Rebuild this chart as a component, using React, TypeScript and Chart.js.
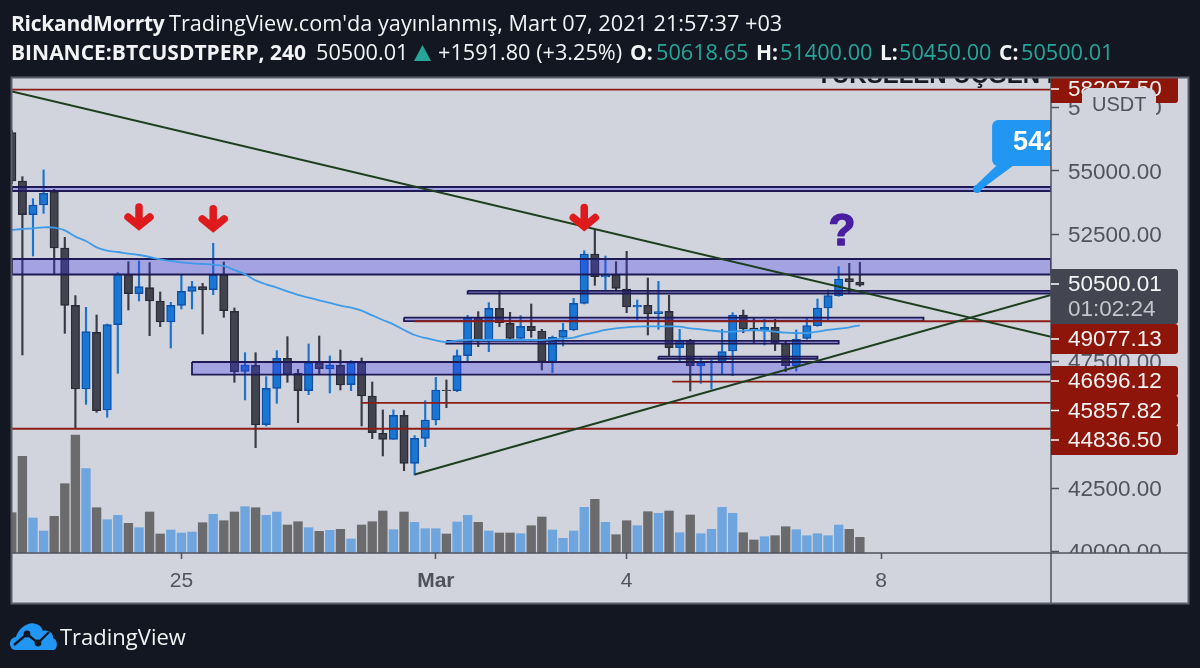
import React, { useEffect, useRef } from "react";
import { Chart, registerables } from "chart.js";

Chart.register(...registerables);

// Four-hour candles, left to right; the first one is cut by the left edge of the panel.
const firstCandleIndex = -1;
const candleOpen = [56512,54606,53278,53660,54185,51964,49703,46405,48639,45577,48941,50926,50164,50400,49874,49046,49703,50255,50439,50321,50899,49467,47101,47338,44998,46431,47614,47022,46339,47443,47193,47338,46575,47443,46128,44657,44420,45366,43474,44459,45182,46365,46339,47718,49230,48297,49585,48993,48402,48875,48691,47482,48441,48731,49782,51727,50820,50899,50347,49637,49703,49374,49467,48034,48336,47311,47442,47482,47903,49322,48809,48704,48836,48205,47324,48402,48901,49598,50084,50755,50618.65];
const candleHigh = [56600,54777,53909,55040,54277,52385,50085,49625,49322,48967,50992,51425,51452,51386,50229,49822,50899,50650,50571,52148,51412,49598,47837,47837,46891,47916,48468,47180,48179,48494,47706,47942,47522,47627,46681,45577,45577,45550,44564,45944,46865,46759,47942,49309,49453,49808,50242,49427,49296,49756,48757,48494,48993,49979,51859,52700,51648,51425,51832,49913,50781,50649,50097,48757,48362,47640,47548,48757,49414,49519,49217,49151,49151,48310,48731,49217,49953,50308,51228,51359,51400];
const candleLow = [54500,47745,51649,53331,50939,48599,44854,45800,45485,45287,47022,49520,49874,48507,48862,48021,49559,49559,48573,50124,49230,46668,45971,44091,44946,45839,46668,45077,46181,46996,46247,46365,46339,44946,44446,43763,44420,43184,43014,44131,44985,45667,46299,47482,48073,47876,48862,48336,48362,48441,47153,47048,48100,48704,49756,50492,50308,50308,49414,49125,48533,48757,47679,47482,46325,46628,46404,46996,46930,48625,48205,48139,47916,47088,47114,48362,48875,49125,50058,50176,50450];
const candleClose = [54606,53278,53660,54120,51964,49703,46405,48665,45550,48941,50939,50164,50439,49874,49046,49703,50255,50439,50321,50899,49493,47088,47351,44985,46431,47614,46983,46339,47443,47206,47351,46562,47443,46128,44683,44420,45366,43474,44459,45182,46365,46338,47718,49230,48297,49585,49020,48402,48875,48704,47482,48441,48718,49782,51727,50833,50886,50373,49637,49703,49361,49453,48034,48336,47324,47429,47508,47876,49322,48770,48704,48836,48231,47324,48362,48901,49598,50084,50741,50636,50500.01];
const volume = [40.3,96.7,35,22,36.7,69.3,118,84.3,45.3,33.3,37.7,29.7,25.3,41,19,23,20,21,30.3,38.7,32.3,41,46.3,45.3,37.7,41,28,31.3,25.3,21.7,22.7,23.7,14,28,31.3,42,23.3,41,30.7,24.3,24.3,19,31,37.7,30.7,22,20,20,19.3,27.3,36,23,14.7,22,45.7,53.7,30.7,18.3,32.3,27.3,41.3,39.7,42,20.3,38,19.3,23.7,45.7,39.7,20.3,13,16.3,17.3,26.3,23.3,17.3,19.3,17.3,28,23.7,15.7];
const movingAverage = [52674,52713,52740,52779,52766,52661,52411,52240,51990,51859,51806,51741,51688,51609,51517,51452,51399,51360,51333,51307,51254,51097,50926,50689,50531,50400,50255,50111,50006,49901,49796,49690,49612,49493,49309,49125,48954,48731,48534,48415,48323,48257,48310,48336,48336,48336,48336,48336,48336,48336,48336,48362,48389,48428,48547,48639,48731,48796,48836,48862,48875,48875,48875,48862,48796,48757,48704,48665,48665,48704,48731,48704,48665,48625,48612,48612,48665,48731,48783,48836,48915];

// x bounds of the time scale and y bounds of the price scale
const xMin = -0.98;
const xMax = 97.03;
const priceMin = 39937;
const priceMax = 58667;
const volumeMax = 475;

const priceTicks = [40000, 42500, 47500, 50000, 52500, 55000, 57500];
const timeTickIndex = [15, 39, 57, 81];
const timeTickLabel = ["25", "Mar", "4", "8"];

// horizontal red levels: from candle index, price
const redLevelStart = [xMin, 37, 61.3, 32, xMin];
const redLevelPrice = [58207.5, 49077.13, 46696.12, 45857.82, 44836.5];

// drawn zones: from, to, top price, bottom price
const zoneFrom = [xMin, xMin, 16, 42, 36, 40, 60];
const zoneTo = [xMax, xMax, xMax, xMax, 85, 77, 75];
const zoneTop = [54369, 51530, 47469, 50275, 49220, 48300, 47680];
const zoneBottom = [54211, 50919, 46968, 50170, 49080, 48190, 47590];

// trend lines: x1, price1, x2, price2
const trendX1 = [xMin, 37];
const trendP1 = [58135, 43033];
const trendX2 = [xMax, xMax];
const trendP2 = [48466, 50110];

const arrowIndex = [11, 18, 53];
const arrowPrice = [52673, 52600, 52650];
const questionIndex = 77.3;
const questionPrice = 52700;
const calloutIndex = 90.06;
const calloutPrice = 54290;

const priceTags = [
  { text: "58207.50", sub: "", cy: 89, h: 28, color: "#8e1509" },
  { text: "49077.13", sub: "", cy: 339, h: 30, color: "#8e1509" },
  { text: "46696.12", sub: "", cy: 381, h: 30, color: "#8e1509" },
  { text: "45857.82", sub: "", cy: 410.5, h: 30, color: "#8e1509" },
  { text: "44836.50", sub: "", cy: 440, h: 30, color: "#8e1509" },
  { text: "50500.01", sub: "01:02:24", cy: 296.5, h: 55, color: "#434651" },
];

const PANEL = "#d1d4dc";
const PAGE = "#131722";
const AXIS = "#50535e";
const PRICE_FONT = '22.5px "Liberation Sans"';
const ARROW_RED = "#df1a1c";

const xs = candleOpen.map((_, i) => firstCandleIndex + i);
const up = candleOpen.map((o, i) => candleClose[i] >= o);

const chrome = {
  id: "chrome",
  beforeDraw(chart: any) {
    const { ctx, width, height } = chart;
    ctx.save();
    ctx.fillStyle = PAGE;
    ctx.fillRect(0, 0, width, height);
    ctx.fillStyle = PANEL;
    ctx.fillRect(12, 78, 1176, 525);
    ctx.restore();
  },
  afterDatasetsDraw(chart: any) {
    const { ctx, chartArea: a, scales } = chart;
    const x = scales.x;
    const y = scales.y;
    ctx.save();
    ctx.beginPath();
    ctx.rect(a.left, a.top, a.right - a.left, a.bottom - a.top);
    ctx.clip();

    // red arrows
    arrowIndex.forEach((ix, k) => {
      const px = x.getPixelForValue(ix);
      const py = y.getPixelForValue(arrowPrice[k]);
      ctx.strokeStyle = ARROW_RED;
      ctx.lineWidth = 7.5;
      ctx.lineCap = "round";
      ctx.lineJoin = "miter";
      ctx.beginPath();
      ctx.moveTo(px, py - 23);
      ctx.lineTo(px, py - 5);
      ctx.moveTo(px - 11, py - 13);
      ctx.lineTo(px, py - 4);
      ctx.lineTo(px + 11, py - 13);
      ctx.stroke();
    });

    // question mark
    ctx.fillStyle = "#4a1ea0";
    ctx.strokeStyle = "#4a1ea0";
    ctx.lineWidth = 1.6;
    ctx.lineJoin = "round";
    ctx.font = 'bold 44px "Liberation Sans"';
    ctx.textAlign = "center";
    ctx.textBaseline = "middle";
    const qx = x.getPixelForValue(questionIndex);
    const qy = y.getPixelForValue(questionPrice) + 4;
    ctx.fillText("?", qx, qy);
    ctx.strokeText("?", qx, qy);

    // title cut off by the top of the panel
    ctx.fillStyle = "#16181f";
    ctx.font = 'bold 24px "Liberation Sans"';
    ctx.textAlign = "left";
    ctx.textBaseline = "alphabetic";
    ctx.fillText("YÜKSELEN ÜÇGEN K", 816, 83);

    // callout, cut by the price axis
    const cx = x.getPixelForValue(calloutIndex);
    const cy = y.getPixelForValue(calloutPrice);
    ctx.fillStyle = "#2196f3";
    ctx.beginPath();
    ctx.roundRect(cx + 15, cy - 69, 120, 46, 6);
    ctx.fill();
    ctx.beginPath();
    ctx.moveTo(cx + 20, cy - 24);
    ctx.lineTo(cx + 37, cy - 24);
    ctx.lineTo(cx + 2, cy + 2);
    ctx.lineTo(cx - 2, cy - 3);
    ctx.closePath();
    ctx.fill();
    ctx.beginPath();
    ctx.arc(cx, cy, 4, 0, Math.PI * 2);
    ctx.fill();
    ctx.fillStyle = "#ffffff";
    ctx.font = 'bold 27px "Liberation Sans"';
    ctx.textAlign = "left";
    ctx.textBaseline = "middle";
    ctx.fillText("542", cx + 36, cy - 46);
    ctx.restore();
  },
  afterDraw(chart: any) {
    const { ctx, chartArea: a } = chart;
    ctx.save();
    // everything under the price scale's bottom edge is the time scale
    ctx.fillStyle = PANEL;
    ctx.fillRect(a.right + 1, a.bottom, 1188 - a.right - 1, 603 - a.bottom);

    // panel separators
    ctx.strokeStyle = AXIS;
    ctx.lineWidth = 1.5;
    ctx.beginPath();
    ctx.moveTo(12, a.bottom);
    ctx.lineTo(1188, a.bottom);
    ctx.moveTo(a.right, 78);
    ctx.lineTo(a.right, 603);
    ctx.stroke();

    // price tags
    ctx.beginPath();
    ctx.rect(a.right, 78, 140, 525);
    ctx.clip();
    priceTags.forEach((t) => {
      ctx.fillStyle = t.color;
      ctx.beginPath();
      ctx.roundRect(a.right, t.cy - t.h / 2, 127, t.h, [0, 3, 3, 0]);
      ctx.fill();
      ctx.fillStyle = "#ffffff";
      ctx.fillRect(a.right, (t.sub ? t.cy - 12.5 : t.cy) - 0.75, 8, 1.5);
      ctx.font = PRICE_FONT;
      ctx.textAlign = "left";
      ctx.textBaseline = "middle";
      ctx.fillStyle = "#f4f4f4";
      ctx.fillText(t.text, 1068, t.sub ? t.cy - 12 : t.cy + 1);
      if (t.sub) {
        ctx.fillStyle = "#c4c6cc";
        ctx.fillText(t.sub, 1068, t.cy + 13);
      }
    });

    // currency badge
    ctx.fillStyle = PANEL;
    ctx.beginPath();
    ctx.roundRect(1082, 88, 74, 40, 8);
    ctx.fill();
    ctx.fillStyle = AXIS;
    ctx.font = '20px "Liberation Sans"';
    ctx.fillText("USDT", 1092, 105);
    ctx.restore();

    // outer frame
    ctx.save();
    ctx.strokeStyle = "#5a5e6a";
    ctx.lineWidth = 2;
    ctx.strokeRect(11.5, 77.5, 1177, 526);
    ctx.restore();
  },
};

function closedZone(k: number) {
  return [
    { x: zoneFrom[k], y: zoneTop[k] },
    { x: zoneTo[k], y: zoneTop[k] },
    { x: zoneTo[k], y: zoneBottom[k] },
    { x: zoneFrom[k], y: zoneBottom[k] },
    { x: zoneFrom[k], y: zoneTop[k] },
  ];
}

function Logo() {
  return (
    <svg width="50" height="32" viewBox="0 0 50 32" style={{ position: "absolute", left: 9, top: 621 }}>
      <path
        d="M3 28 C-1 23 1 17 7 16 C9 8 19 0 27 3 C31 4 33 7 34 10 C39 8 45 13 44 17 C49 19 49 27 45 29 L6 29 Z"
        fill="#2196f3"
      />
      <path d="M5 24 L18 13 L29 22 L40 11" fill="none" stroke="#131722" strokeWidth="2.4" />
      <circle cx="18" cy="13" r="3.4" fill="#131722" />
      <circle cx="29" cy="22" r="3.4" fill="#131722" />
    </svg>
  );
}

const headStyle: React.CSSProperties = {
  position: "absolute",
  whiteSpace: "nowrap",
  fontFamily: '"Open Sans", sans-serif',
  lineHeight: "26px",
  color: "#f2f3f5",
};

function Head({ left, top, bold, teal, spacing, children }: any) {
  return (
    <span
      style={{
        ...headStyle,
        left,
        top,
        fontSize: bold ? 21 : 21.7,
        fontWeight: bold ? 700 : 400,
        color: teal ? "#26a69a" : "#f2f3f5",
        letterSpacing: spacing ?? 0,
      }}
    >
      {children}
    </span>
  );
}

export default function App() {
  const ref = useRef<HTMLCanvasElement | null>(null);
  useEffect(() => {
    const canvas = ref.current!;
    const chart = new Chart(canvas, {
      type: "bar",
      data: {
        datasets: [
          {
            type: "bar",
            label: "Volume",
            yAxisID: "v",
            grouped: false,
            barThickness: 8.7,
            order: 20,
            data: xs.map((x, i) => ({ x, y: volume[i] })),
            backgroundColor: up.map((u) => (u ? "#6fa5de" : "#6b6b6d")),
          },
          {
            type: "bar",
            label: "Wick",
            grouped: false,
            barThickness: 1.5,
            order: 19,
            data: xs.map((x, i) => ({ x, y: [candleLow[i], candleHigh[i]] })),
            backgroundColor: up.map((u) => (u ? "#1a73d0" : "#383a46")),
          },
          {
            type: "bar",
            label: "Body",
            grouped: false,
            barThickness: 8.4,
            order: 18,
            borderWidth: 1.4,
            borderSkipped: false,
            data: xs.map((x, i) => ({ x, y: [candleOpen[i], candleClose[i]] })),
            backgroundColor: up.map((u) => (u ? "#1976d2" : "#41434f")),
            borderColor: up.map((u) => (u ? "#0f4fa8" : "#2a2b38")),
          },
          ...zoneFrom.map((_, k) => ({
            type: "line",
            label: "Zone " + k,
            order: 17,
            data: closedZone(k),
            borderColor: "#1f1a55",
            borderWidth: 1.8,
            backgroundColor: "rgba(57,50,240,0.30)",
            fill: "shape",
            pointRadius: 0,
            tension: 0,
          })),
          {
            type: "line",
            label: "MA",
            order: 16,
            data: xs.map((x, i) => ({ x, y: movingAverage[i] })),
            borderColor: "#3d9be9",
            borderWidth: 1.8,
            pointRadius: 0,
            tension: 0.3,
          },
          ...redLevelPrice.map((p, k) => ({
            type: "line",
            label: "Level " + k,
            order: 15,
            data: [
              { x: redLevelStart[k], y: p },
              { x: xMax, y: p },
            ],
            borderColor: "#8c1c18",
            borderWidth: 1.9,
            pointRadius: 0,
          })),
          ...trendX1.map((_, k) => ({
            type: "line",
            label: "Trend " + k,
            order: 14,
            data: [
              { x: trendX1[k], y: trendP1[k] },
              { x: trendX2[k], y: trendP2[k] },
            ],
            borderColor: "#1d3f1e",
            borderWidth: 2,
            pointRadius: 0,
          })),
        ] as any,
      },
      options: {
        animation: false,
        responsive: false,
        layout: { padding: { left: 12, top: 78, right: 12, bottom: 65 } },
        plugins: { legend: { display: false }, tooltip: { enabled: false } },
        scales: {
          x: {
            type: "linear",
            min: xMin,
            max: xMax,
            offset: false,
            afterFit(s: any) {
              s.height = 50;
            },
            afterBuildTicks(s: any) {
              s.ticks = timeTickIndex.map((value) => ({ value }));
            },
            grid: { offset: false, drawOnChartArea: false, color: AXIS, tickLength: 6, tickWidth: 1.5 },
            border: { display: false },
            ticks: {
              autoSkip: false,
              maxRotation: 0,
              color: AXIS,
              padding: 10,
              font: (c: any) => ({
                family: '"Liberation Sans"',
                size: 21,
                weight: c.tick && c.tick.value === 39 ? "bold" : "normal",
              }),
              callback: (v: any) => timeTickLabel[timeTickIndex.indexOf(v)],
            },
          },
          y: {
            position: "right",
            min: priceMin,
            max: priceMax,
            afterFit(s: any) {
              s.width = 137;
            },
            afterBuildTicks(s: any) {
              s.ticks = priceTicks.map((value) => ({ value }));
            },
            grid: { drawOnChartArea: false, color: AXIS, tickLength: 8, tickWidth: 1.5 },
            border: { display: false },
            ticks: {
              autoSkip: false,
              color: AXIS,
              padding: 9,
              labelOffset: 1.5,
              font: { family: '"Liberation Sans"', size: 22.5 },
              callback: (v: any) => Number(v).toFixed(2),
            },
          },
          v: {
            display: false,
            position: "left",
            min: 0,
            max: volumeMax,
          },
        },
      } as any,
      plugins: [chrome],
    });
    return () => chart.destroy();
  }, []);

  return (
    <div style={{ position: "fixed", left: 0, top: 0, width: 1200, height: 668, background: PAGE, overflow: "hidden" }}>
      <canvas ref={ref} width={1200} height={668} style={{ position: "absolute", left: 0, top: 0, width: 1200, height: 668 }} />
      <Head left={11} top={10} bold spacing={-0.25}>RickandMorrty</Head>
      <Head left={169} top={10}>TradingView.com'da yayınlanmış, Mart 07, 2021 21:57:37 +03</Head>
      <Head left={11} top={39} bold>BINANCE:BTCUSDTPERP, 240</Head>
      <Head left={316} top={39}>50500.01</Head>
      <svg width="18" height="16" style={{ position: "absolute", left: 414, top: 45 }}>
        <path d="M0 16 L8.5 0 L17 16 Z" fill="#26a69a" />
      </svg>
      <Head left={438} top={39}>+1591.80 (+3.25%)</Head>
      <Head left={630} top={39} bold>O:</Head>
      <Head left={656} top={39} teal>50618.65</Head>
      <Head left={756} top={39} bold>H:</Head>
      <Head left={780} top={39} teal>51400.00</Head>
      <Head left={880} top={39} bold>L:</Head>
      <Head left={899} top={39} teal>50450.00</Head>
      <Head left={999} top={39} bold>C:</Head>
      <Head left={1021} top={39} teal>50500.01</Head>
      <Logo />
      <span style={{ ...headStyle, left: 60, top: 623, fontSize: 22 }}>TradingView</span>
    </div>
  );
}
